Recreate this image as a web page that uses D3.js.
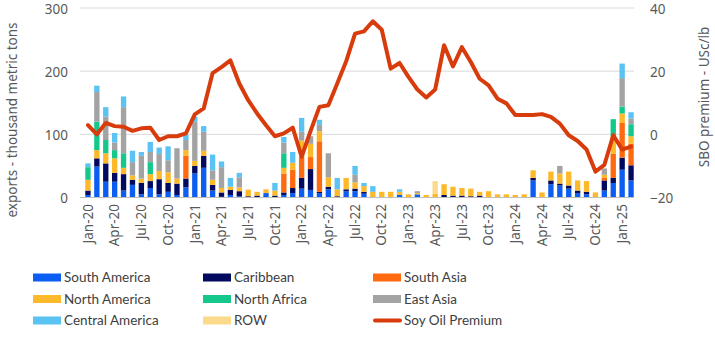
<!DOCTYPE html>
<html>
<head>
<meta charset="utf-8">
<script src="https://cdn.jsdelivr.net/npm/d3@7"></script>
<style>
  body { margin: 0; background: #fff; }
  text { font-family: "Noto Sans", "Open Sans", sans-serif; fill: #595959; }
  .legend text { font-family: Lato, "Noto Sans", sans-serif; }
</style>
</head>
<body>
<div id="chart"></div>
<script>
// monthly categories, Jan-20 .. Feb-25
var months = d3.timeMonth.range(new Date(2020, 0, 1), new Date(2025, 2, 1)).map(d3.timeFormat("%b-%y"))

// exports by destination, thousand metric tons
var southAmerica   = [4,49,25,25,11,20,5,15,5,9,4,16,38,47,11,1,4,2,0,0,7,0,4,7,14,12,7,13,0,10,10,6,0,0,0,4,0,5,0,0,0,0,0,0,0,0,0,0,0,0,27,0,21,19,14,7,5,0,11,23,44,27]
var caribbean      = [7,13,29,14,26,8,18,11,24,14,18,14,12,19,9,7,8,8,2,3,0,3,4,8,17,33,2,4,2,3,4,3,0,0,0,0,0,0,0,0,4,3,3,2,3,0,0,0,0,0,4,0,6,3,5,4,4,0,16,8,19,24]
var southAsia      = [0,0,0,0,0,0,0,0,0,0,0,36,0,0,0,0,0,0,0,0,0,0,30,29,33,19,80,0,0,0,0,0,0,0,0,0,0,0,0,0,0,0,0,0,0,0,0,0,0,0,0,0,0,0,0,0,0,0,4,38,55,34]
var northAmerica   = [17,13,16,23,10,7,7,11,13,17,8,9,8,8,8,7,5,6,10,6,6,8,9,11,26,21,16,15,11,18,10,9,9,9,9,5,5,2,4,6,17,14,12,12,6,10,5,5,4,5,12,8,14,16,22,16,17,8,5,28,15,12]
var northAfrica    = [20,45,21,13,23,0,0,19,0,0,0,0,0,0,0,0,0,0,0,0,0,0,23,0,0,0,0,0,0,0,0,0,0,0,0,0,0,0,0,0,0,0,0,0,0,0,0,0,0,0,0,0,0,0,0,0,0,0,0,27,11,19]
var eastAsia       = [0,47,37,12,73,21,36,16,27,19,48,16,62,30,15,33,0,16,0,0,0,0,17,0,14,12,10,38,0,0,12,0,0,0,0,0,0,3,0,0,0,0,0,0,0,0,0,0,0,0,0,0,0,12,0,0,0,0,10,0,45,9]
var centralAmerica = [6,10,15,15,17,18,6,16,10,22,0,8,8,9,25,9,14,7,0,0,0,12,9,17,22,0,8,0,18,0,14,5,9,0,0,4,0,0,0,0,0,0,0,0,0,0,0,0,0,0,0,0,0,0,0,0,0,0,0,0,23,10]
var row            = [0,0,0,0,0,0,0,0,0,0,0,0,0,0,0,0,0,0,1,0,0,0,0,0,0,0,0,0,0,0,0,0,0,0,0,0,0,0,0,20,0,0,0,0,0,0,0,0,0,0,0,0,0,0,0,0,0,0,0,0,0,0]

// soybean oil premium, USc/lb
var premium = [2.9,0,3.6,2.6,2.4,1.1,1.9,2.1,-1.8,-0.6,-0.6,0.3,6.3,8.2,19.4,21.3,23.4,16.1,10.8,6.6,2.9,-0.6,0.3,2.1,-7.1,1.0,8.7,9.2,16.1,23.1,31.9,32.6,35.8,33.1,20.8,22.6,18.2,14.2,11.7,14.2,28.2,21.5,27.6,22.9,17.6,15.5,11.3,9.8,6.1,6.1,6.1,6.4,5.5,3.4,-0.3,-2.1,-4.8,-11.8,-9.7,-0.3,-4.8,-3.9]

var seriesNames = ["South America","Caribbean","South Asia","North America","North Africa","East Asia","Central America","ROW"]
var seriesData = [southAmerica, caribbean, southAsia, northAmerica, northAfrica, eastAsia, centralAmerica, row]
var seriesColors = ["#0c5ef2","#010a5e","#ff6a10","#fdb92a","#14c88c","#a3a3a3","#5bc2f4","#fdd98c"]
var lineColor = "#d83c0c"

var leftTicks = [0,100,200,300]
var rightTicks = [-20,0,20,40]

var W = 715, H = 342
var svg = d3.select("#chart").append("svg").attr("width", W).attr("height", H)

// scales
var x = d3.scaleBand().domain(months).range([83.5, 635.5]).paddingInner(0.4).paddingOuter(0.2)
var y = d3.scaleLinear().domain([0, 300]).range([197.5, 8])
var y2 = d3.scaleLinear().domain([-20, 40]).range([197.5, 8])

// stack table
var table = months.map(function(m, i){
    var row = {month: m}
    seriesNames.forEach(function(n, k){ row[n] = seriesData[k][i] })
    return row
})
var stack = d3.stack().keys(seriesNames)(table)

// gridlines
svg.append("g").selectAll("line").data(leftTicks.slice(1)).enter().append("line")
    .attr("x1", 80).attr("x2", 634)
    .attr("y1", function(d){ return y(d) }).attr("y2", function(d){ return y(d) })
    .attr("stroke", "#d9d9d9").attr("stroke-width", 1)

// bars
svg.append("g").selectAll("g").data(stack).enter().append("g")
    .attr("fill", function(d, k){ return seriesColors[k] })
    .selectAll("rect").data(function(d){ return d }).enter().append("rect")
    .attr("x", function(d){ return x(d.data.month) })
    .attr("width", x.bandwidth())
    .attr("y", function(d){ return y(d[1]) })
    .attr("height", function(d){ return y(d[0]) - y(d[1]) })

// baseline
svg.append("line").attr("x1", 80).attr("x2", 634).attr("y1", y(0)).attr("y2", y(0))
    .attr("stroke", "#bfbfbf").attr("stroke-width", 1)

// premium line
var line = d3.line()
    .x(function(d, i){ return x(months[i]) + x.bandwidth() / 2 })
    .y(function(d){ return y2(d) })
svg.append("path").datum(premium).attr("d", line)
    .attr("fill", "none").attr("stroke", lineColor).attr("stroke-width", 4)
    .attr("stroke-linejoin", "round").attr("stroke-linecap", "round")

// left axis labels
var yAxis = d3.axisLeft(y).tickValues(leftTicks).tickSize(0).tickPadding(0)
svg.append("g").attr("transform", "translate(68,1)").call(yAxis)
    .call(function(g){ g.select(".domain").remove() })
    .selectAll("text").style("font-size", "13.5px").style("fill", "#595959")

// right axis labels
var yAxis2 = d3.axisRight(y2).tickValues(rightTicks).tickSize(0).tickPadding(0)
svg.append("g").attr("transform", "translate(650,1)").call(yAxis2)
    .call(function(g){ g.select(".domain").remove() })
    .selectAll("text").style("font-size", "13.5px").style("fill", "#595959")

// x labels every quarter
var xAxis = d3.axisBottom(x).tickValues(months.filter(function(d, i){ return i % 3 == 0 })).tickSize(0).tickPadding(0)
svg.append("g").attr("transform", "translate(0,204)").call(xAxis)
    .call(function(g){ g.select(".domain").remove() })
    .selectAll("text")
    .style("font-size", "13.5px").style("fill", "#595959")
    .style("text-anchor", "end")
    .attr("y", 0).attr("x", 0).attr("dy", "0.35em")
    .attr("transform", "rotate(-90)")

// axis titles
svg.append("text").attr("transform", "translate(12,120) rotate(-90)")
    .attr("text-anchor", "middle").attr("dy", "0.35em")
    .style("font-size", "13.5px").text("exports - thousand metric tons")
svg.append("text").attr("transform", "translate(704,97) rotate(-90)")
    .attr("text-anchor", "middle").attr("dy", "0.35em")
    .style("font-size", "13.5px").text("SBO premium - USc/lb")

// legend
var legendItems = seriesNames.concat(["Soy Oil Premium"])
var legend = svg.append("g").attr("class", "legend").selectAll("g").data(legendItems).enter().append("g")
    .attr("transform", function(d, i){
        var col = i % 3, rowN = Math.floor(i / 3)
        return "translate(" + (33 + col * 170) + "," + [277.5, 299, 320.5][rowN] + ")"
    })
legend.each(function(d, i){
    var g = d3.select(this)
    if(i < seriesNames.length){
        g.append("rect").attr("x", 0).attr("y", -4).attr("width", 28).attr("height", 8).attr("fill", seriesColors[i])
    }else{
        g.append("line").attr("x1", 2).attr("x2", 27).attr("y1", 0).attr("y2", 0)
            .attr("stroke", lineColor).attr("stroke-width", 4).attr("stroke-linecap", "round")
    }
    g.append("text").attr("x", 31).attr("dy", "0.36em").style("font-size", "13.5px").style("fill", "#404040").text(d)
})
</script>
</body>
</html>
